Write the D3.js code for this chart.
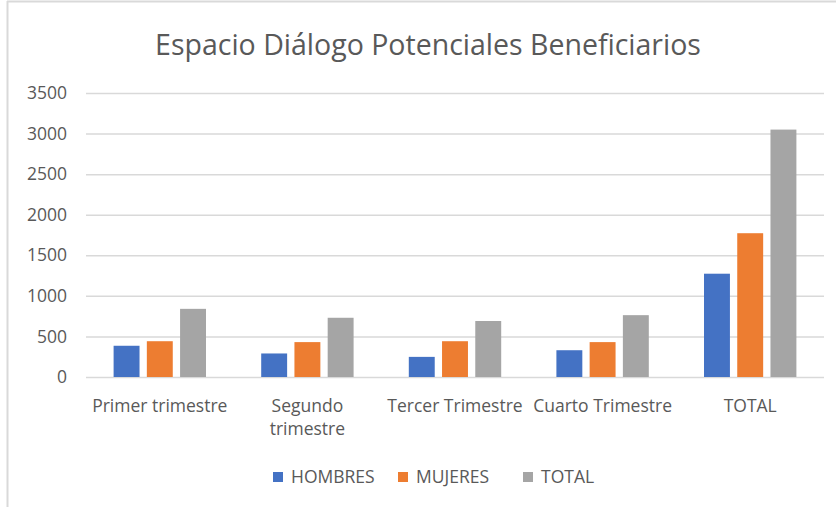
<!DOCTYPE html>
<html>
<head>
<meta charset="UTF-8">
<title>Espacio Diálogo Potenciales Beneficiarios</title>
<script src="https://cdn.jsdelivr.net/npm/d3@7"></script>
<style>
body { margin: 0; background: #fff; }
svg text { font-family: "Open Sans", sans-serif; fill: #595959; }
.grid line { stroke: #d9d9d9; stroke-width: 1.5px; }
</style>
</head>
<body>
<svg id="chart" width="836" height="508"></svg>
<script>
// datos
var categories = ["Primer trimestre", "Segundo trimestre", "Tercer Trimestre", "Cuarto Trimestre", "TOTAL"];
var labelLines = [["Primer trimestre"], ["Segundo", "trimestre"], ["Tercer Trimestre"], ["Cuarto Trimestre"], ["TOTAL"]];
var series = ["HOMBRES", "MUJERES", "TOTAL"];
var hombres = [385, 290, 248, 330, 1273];
var mujeres = [441, 430, 441, 430, 1772];
var total = [840, 730, 690, 762, 3049];
var yTicks = [0, 500, 1000, 1500, 2000, 2500, 3000, 3500];
var colors = ["#4472C4", "#ED7D31", "#A5A5A5"];

var values = [hombres, mujeres, total];
var rows = categories.map(function(c, i) {
  return {cat: c, lines: labelLines[i], vals: series.map(function(s, j) { return {s: s, v: values[j][i]}; })};
});

var svg = d3.select("#chart");
var margin = {left: 86, right: 12, top: 93, bottom: 131};
var width = 836 - margin.left - margin.right,
    height = 508 - margin.top - margin.bottom;

// borde
svg.append("line").attr("x1", 7.5).attr("x2", 7.5).attr("y1", 1).attr("y2", 507)
  .attr("stroke", "#d9d9d9").attr("stroke-width", 2);
svg.append("line").attr("x1", 7).attr("x2", 836).attr("y1", 1.5).attr("y2", 1.5)
  .attr("stroke", "#d9d9d9").attr("stroke-width", 2);

svg.append("text")
  .attr("x", 428).attr("y", 55)
  .attr("text-anchor", "middle")
  .style("font-size", "28.5px")
  .text("Espacio Diálogo Potenciales Beneficiarios");

var g = svg.append("g").attr("transform", "translate(" + margin.left + "," + margin.top + ")");

var x0 = d3.scaleBand().domain(categories).range([0, width]).paddingInner(0.374).paddingOuter(0.187);
var x1 = d3.scaleBand().domain(series).range([0, x0.bandwidth()]).paddingInner(0.22);
var y = d3.scaleLinear().domain([0, 3500]).range([height, 0]);
var color = d3.scaleOrdinal().domain(series).range(colors);

// rejilla
g.append("g").attr("class", "grid")
  .call(d3.axisLeft(y).tickValues(yTicks).tickSize(-width).tickFormat(""))
  .call(function(s) { s.select(".domain").remove(); });

var yAxis = g.append("g")
  .call(d3.axisLeft(y).tickValues(yTicks).tickSize(0).tickPadding(19).tickFormat(d3.format("d")));
yAxis.select(".domain").remove();
yAxis.selectAll("text").style("font-size", "17.5px").attr("fill", "#595959");

var grp = g.selectAll(".cat")
  .data(rows)
  .enter().append("g")
    .attr("class", "cat")
    .attr("transform", function(d) { return "translate(" + x0(d.cat) + ",0)"; });

grp.selectAll("rect")
  .data(function(d) { return d.vals; })
  .enter().append("rect")
    .attr("x", function(d) { return x1(d.s); })
    .attr("y", function(d) { return y(d.v); })
    .attr("width", x1.bandwidth())
    .attr("height", function(d) { return height - y(d.v); })
    .attr("fill", function(d) { return color(d.s); });

// etiquetas del eje x
var xl = g.append("g").selectAll("text")
  .data(rows)
  .enter().append("text")
    .attr("text-anchor", "middle")
    .attr("transform", function(d) { return "translate(" + (x0(d.cat) + x0.bandwidth() / 2) + "," + (height + 35) + ")"; })
    .style("font-size", "17.5px");
xl.selectAll("tspan")
  .data(function(d) { return d.lines; })
  .enter().append("tspan")
    .attr("x", 0)
    .attr("y", function(d, i) { return i * 23; })
    .text(function(d) { return d; });

// leyenda
var legendX = [273, 398, 523];
var leg = svg.append("g").selectAll("g")
  .data(series)
  .enter().append("g")
    .attr("transform", function(d, i) { return "translate(" + legendX[i] + ",472)"; });
leg.append("rect").attr("width", 10).attr("height", 10).attr("fill", function(d) { return color(d); });
leg.append("text").attr("x", 18).attr("y", 11).style("font-size", "17.5px").text(function(d) { return d; });
</script>
</body>
</html>
